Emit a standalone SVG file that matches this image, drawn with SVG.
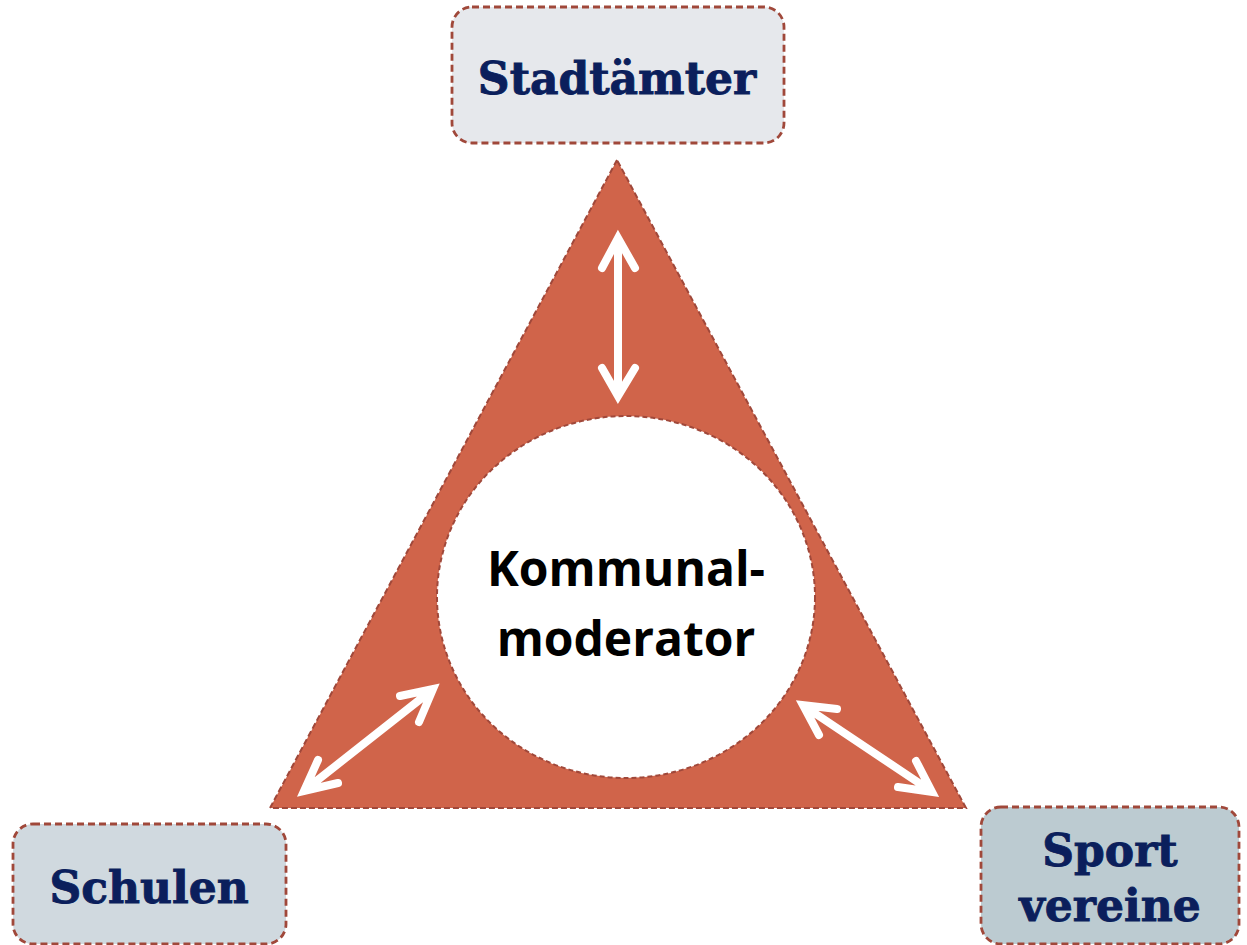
<svg xmlns="http://www.w3.org/2000/svg" width="1247" height="945" viewBox="0 0 1247 945">
<style>
.box{stroke:#a0483a;stroke-width:2.8;stroke-dasharray:7 4}
.lbl{font-family:"DejaVu Serif","Liberation Serif",serif;font-weight:bold;font-size:44px;fill:#0b1f5c;stroke:#0b1f5c;stroke-width:0.9;text-anchor:middle}
.arr{fill:none;stroke:#ffffff;stroke-width:8;stroke-linecap:round;stroke-linejoin:miter}
.ctr{font-family:"Open Sans","Noto Sans",sans-serif;font-weight:bold;font-size:48px;fill:#000;text-anchor:middle}
</style>
<rect width="1247" height="945" fill="#ffffff"/>
<g id="triangle">
<polygon points="617,160 270,808 966,808" fill="#d0644a" stroke="#a0483a" stroke-width="2" stroke-dasharray="6 3"/>
</g>
<g id="moderator">
<ellipse cx="626" cy="597" rx="189" ry="181" fill="#ffffff" stroke="#a0483a" stroke-width="2" stroke-dasharray="5 3"/>
<text class="ctr" x="626" y="586">Kommunal-</text>
<text class="ctr" x="626" y="656">moderator</text>
</g>
<g id="connectors">
<path class="arr" d="M618,240 L618,394 M602,268 L618,238 L635,268 M602,368 L618,396 L635,368"/>
<path class="arr" d="M305,790 L432,690 M318,760 L304,791 L338,783 M400,696 L433,689 L419,722"/>
<path class="arr" d="M804,706 L931,791 M837,709 L803,705 L819,735 M898,787 L932,792 L916,761"/>
</g>
<g id="stadtaemter">
<rect class="box" x="452" y="7" width="332" height="136" rx="20" fill="#e6e8ec"/>
<text class="lbl" x="617" y="94">Stadtämter</text>
</g>
<g id="schulen">
<rect class="box" x="13" y="824" width="273" height="120" rx="20" fill="#d0d9df"/>
<text class="lbl" x="149" y="903">Schulen</text>
</g>
<g id="sportvereine">
<rect class="box" x="981" y="807" width="258" height="137" rx="20" fill="#bccbd1"/>
<text class="lbl" x="1110" y="866">Sport</text>
<text class="lbl" x="1110" y="921">vereine</text>
</g>
</svg>
